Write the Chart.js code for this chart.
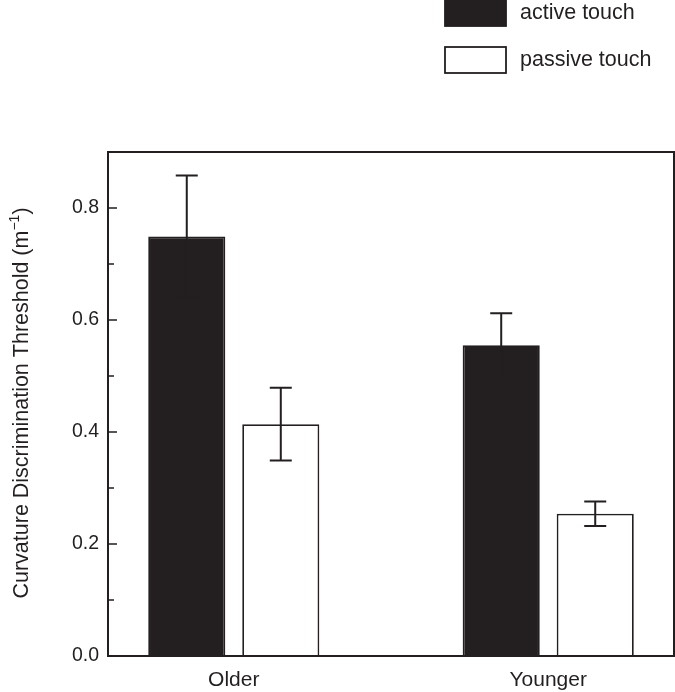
<!DOCTYPE html>
<html>
<head>
<meta charset="utf-8">
<script src="https://cdn.jsdelivr.net/npm/chart.js@4.4.1/dist/chart.umd.min.js"></script>
<style>
  html, body { margin: 0; padding: 0; background: #fff; }
</style>
</head>
<body>
<canvas id="chart" width="675" height="692"></canvas>
<script>
// data
const groups = ["Older", "Younger"];
const groupPos = [1, 2];
const seriesNames = ["active touch", "passive touch"];
const activeMean = [0.749, 0.555];
const activeErr = [0.109, 0.057];
const passiveMean = [0.414, 0.254];
const passiveErr = [0.065, 0.022];
const yTicks = [0, 0.2, 0.4, 0.6, 0.8];
const yMinorTicks = [0.1, 0.3, 0.5, 0.7];
const yTitle = "Curvature Discrimination Threshold (m";
const yTitleSup = "\u22121";

const ink = "#231f20";
const fontFam = '"Liberation Sans", Arial, Helvetica, sans-serif';
const errors = [activeErr, passiveErr];

/* -----------------------
   PLUGINS
------------------------ */
const frameAndTicks = {
    id: "frameAndTicks",
    afterDatasetsDraw(chart) {
        const { ctx, chartArea: a, scales } = chart;
        const y = scales.y;
        ctx.save();
        ctx.strokeStyle = ink;

        // error bars
        ctx.lineWidth = 2;
        chart.data.datasets.forEach((ds, di) => {
            const meta = chart.getDatasetMeta(di);
            meta.data.forEach((bar, i) => {
                const v = ds.data[i].y;
                const e = errors[di][i];
                const top = y.getPixelForValue(v + e);
                const bot = y.getPixelForValue(v - e);
                ctx.beginPath();
                ctx.moveTo(bar.x, top);
                ctx.lineTo(bar.x, bot);
                ctx.moveTo(bar.x - 11, top);
                ctx.lineTo(bar.x + 11, top);
                ctx.moveTo(bar.x - 11, bot);
                ctx.lineTo(bar.x + 11, bot);
                ctx.stroke();
            });
        });

        // frame
        ctx.lineWidth = 2;
        ctx.strokeRect(a.left, a.top, a.right - a.left, a.bottom - a.top);

        // inward ticks
        ctx.beginPath();
        yTicks.forEach(v => {
            const py = Math.round(y.getPixelForValue(v));
            ctx.moveTo(a.left, py);
            ctx.lineTo(a.left + 9, py);
        });
        yMinorTicks.forEach(v => {
            const py = Math.round(y.getPixelForValue(v));
            ctx.moveTo(a.left, py);
            ctx.lineTo(a.left + 6, py);
        });
        ctx.lineWidth = 1.6;
        ctx.stroke();
        ctx.restore();
    },
    afterDraw(chart) {
        const { ctx } = chart;
        ctx.save();

        // legend
        ctx.font = "21.5px " + fontFam;
        ctx.textBaseline = "middle";
        chart.data.datasets.forEach((ds, i) => {
            const by = i === 0 ? 0 : 47;
            ctx.fillStyle = ds.backgroundColor;
            ctx.fillRect(445, by, 61, 26);
            ctx.strokeStyle = ink;
            ctx.lineWidth = 1.8;
            ctx.strokeRect(445, by, 61, 26);
            ctx.fillStyle = ink;
            ctx.fillText(ds.label, 520, by + 13);
        });

        // y title with superscript
        ctx.translate(28, 403);
        ctx.rotate(-Math.PI / 2);
        const mainFont = "21.5px " + fontFam;
        const supFont = "14px " + fontFam;
        ctx.font = mainFont;
        const w1 = ctx.measureText(yTitle).width;
        const w3 = ctx.measureText(")").width;
        ctx.font = supFont;
        const w2 = ctx.measureText(yTitleSup).width;
        let x = -(w1 + w2 + w3) / 2;
        ctx.fillStyle = ink;
        ctx.textBaseline = "alphabetic";
        ctx.font = mainFont;
        ctx.fillText(yTitle, x, 0);
        x += w1;
        ctx.font = supFont;
        ctx.fillText(yTitleSup, x, -9);
        x += w2;
        ctx.font = mainFont;
        ctx.fillText(")", x, 0);
        ctx.restore();
    }
};

/* -----------------------
   CHART
------------------------ */
const chart = new Chart(document.getElementById("chart"), {
    type: "bar",
    data: {
        datasets: [{
            label: seriesNames[0],
            data: activeMean.map((v, i) => ({ x: groupPos[i], y: v })),
            backgroundColor: ink,
            borderColor: ink,
            borderWidth: 1.8
        }, {
            label: seriesNames[1],
            data: passiveMean.map((v, i) => ({ x: groupPos[i], y: v })),
            backgroundColor: "#ffffff",
            borderColor: ink,
            borderWidth: 1.8
        }]
    },
    options: {
        responsive: false,
        animation: false,
        categoryPercentage: 0.598,
        barPercentage: 0.82,
        layout: { padding: { top: 152, left: 0, right: 1, bottom: 0 } },
        plugins: {
            legend: { display: false },
            tooltip: { enabled: false }
        },
        scales: {
            x: {
                type: "linear",
                offset: false,
                min: 0.6,
                max: 2.4,
                grid: { display: false, drawTicks: false },
                border: { display: false },
                afterFit: s => { s.height = 36; },
                afterBuildTicks: s => { s.ticks = groupPos.map(v => ({ value: v })); },
                ticks: {
                    padding: 12,
                    color: ink,
                    font: { family: fontFam, size: 21 },
                    callback: v => groups[groupPos.indexOf(v)]
                }
            },
            y: {
                min: 0,
                max: 0.9,
                grid: { display: false, drawTicks: false },
                border: { display: false },
                afterFit: s => { s.width = 108; },
                afterBuildTicks: s => { s.ticks = yTicks.map(v => ({ value: v })); },
                ticks: {
                    padding: 9,
                    color: ink,
                    font: { family: fontFam, size: 19.5 },
                    callback: v => v.toFixed(1)
                }
            }
        }
    },
    plugins: [frameAndTicks]
});
</script>
</body>
</html>
